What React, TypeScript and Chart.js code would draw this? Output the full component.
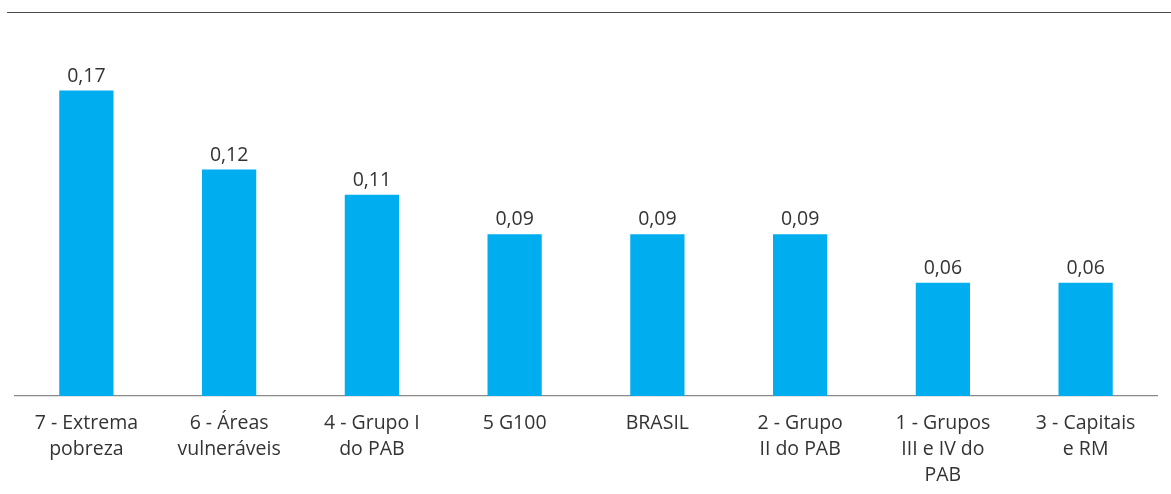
import React, { useEffect, useRef } from "react";
import { Chart, registerables } from "chart.js";

Chart.register(...registerables);

const categories: string[][] = [
  ["7 - Extrema", "pobreza"],
  ["6 - Áreas", "vulneráveis"],
  ["4 - Grupo I", "do PAB"],
  ["5 G100"],
  ["BRASIL"],
  ["2 - Grupo", "II do PAB"],
  ["1 - Grupos", "III e IV do", "PAB"],
  ["3 - Capitais", "e RM"],
];
const values: number[] = [0.17, 0.126, 0.112, 0.09, 0.09, 0.09, 0.063, 0.063];
const valueLabels: string[] = ["0,17", "0,12", "0,11", "0,09", "0,09", "0,09", "0,06", "0,06"];

const FONT = "'Open Sans', 'DejaVu Sans', sans-serif";
const TEXT = "#333333";

const extrasPlugin = {
  id: "extras",
  afterDatasetsDraw(chart: any) {
    const ctx = chart.ctx;
    ctx.save();
    // top rule
    ctx.strokeStyle = "#4a4a4a";
    ctx.lineWidth = 1.2;
    ctx.beginPath();
    ctx.moveTo(7, 12.5);
    ctx.lineTo(chart.width, 12.5);
    ctx.stroke();
    // value labels
    const meta = chart.getDatasetMeta(0);
    ctx.fillStyle = TEXT;
    ctx.font = `19.5px ${FONT}`;
    ctx.textAlign = "center";
    ctx.textBaseline = "alphabetic";
    meta.data.forEach((bar: any, i: number) => {
      ctx.fillText(valueLabels[i], bar.x, bar.y - 9);
    });
    ctx.restore();
  },
};

export default function App() {
  const ref = useRef<HTMLCanvasElement | null>(null);
  useEffect(() => {
    if (!ref.current) return;
    const chart = new Chart(ref.current, {
      type: "bar",
      data: {
        labels: categories,
        datasets: [
          {
            data: values,
            backgroundColor: "#00AEEF",
            barPercentage: 0.38,
            categoryPercentage: 1,
          },
        ],
      },
      options: {
        animation: false,
        responsive: false,
        maintainAspectRatio: false,
        layout: { padding: { left: 15, right: 14, top: 12, bottom: 0 } },
        plugins: { legend: { display: false }, tooltip: { enabled: false } },
        scales: {
          x: {
            grid: { display: false, drawTicks: false },
            border: { display: true, color: "#8a8a8a", width: 1.2 },
            ticks: {
              color: TEXT,
              font: { family: FONT, size: 19.5, lineHeight: 26 / 19.5 },
              padding: 14,
              maxRotation: 0,
              autoSkip: false,
            },
            afterFit: (scale: any) => {
              scale.height = 98;
            },
          },
          y: {
            display: false,
            min: 0,
            max: 0.2137,
          },
        },
      },
      plugins: [extrasPlugin],
    });
    return () => chart.destroy();
  }, []);
  return (
    <div style={{ position: "absolute", left: 0, top: 0, width: 1171, height: 494 }}>
      <canvas ref={ref} width={1171} height={494} style={{ width: 1171, height: 494 }} />
    </div>
  );
}
